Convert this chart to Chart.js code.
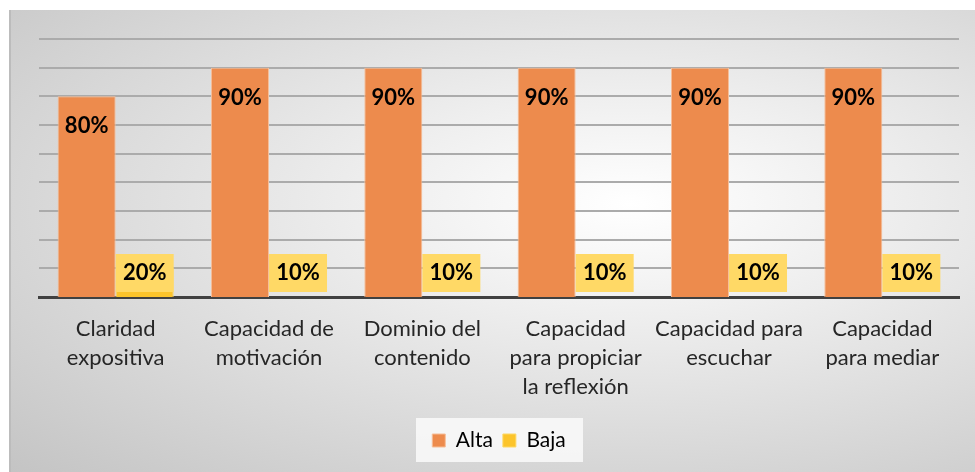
<!DOCTYPE html>
<html>
<head>
<meta charset="utf-8">
<script src="https://cdn.jsdelivr.net/npm/chart.js@4.4.1/dist/chart.umd.min.js"></script>
<style>
  html, body { margin: 0; padding: 0; background: #fff; }
  #wrap { position: relative; width: 975px; height: 472px; overflow: hidden; }
  #bg {
    position: absolute; left: 9px; top: 10px; width: 966px; height: 462px;
    background: radial-gradient(ellipse farthest-corner at 64% 42%, #ffffff 0%, #eeeeee 30%, #c4c4c4 100%);
    border-left: 2px solid #bcbcbc;
  }
  canvas { position: absolute; left: 0; top: 0; }
</style>
</head>
<body>
<div id="wrap">
  <div id="bg"></div>
  <canvas id="myChart" width="975" height="472"></canvas>
</div>
<script>
const categories = [
    ['Claridad', 'expositiva'],
    ['Capacidad de', 'motivación'],
    ['Dominio del', 'contenido'],
    ['Capacidad', 'para propiciar', 'la reflexión'],
    ['Capacidad para', 'escuchar'],
    ['Capacidad', 'para mediar']
];
const alta = [80, 90, 90, 90, 90, 90];
const baja = [20, 10, 10, 10, 10, 10];

const FONT = "Lato, 'Open Sans', sans-serif";

// etiquetas de datos (sin plugin externo)
const valueLabels = {
    id: 'valueLabels',
    afterDatasetsDraw(chart) {
        const ctx = chart.ctx;
        const base = chart.scales.y.getPixelForValue(chart.scales.y.min);
        ctx.save();
        ctx.font = 'bold 22px ' + FONT;
        ctx.textAlign = 'center';
        ctx.textBaseline = 'middle';

        chart.getDatasetMeta(0).data.forEach((bar, i) => {
            ctx.fillStyle = '#000';
            ctx.fillText(alta[i] + '%', bar.x, bar.y + 30);
        });

        chart.getDatasetMeta(1).data.forEach((bar, i) => {
            ctx.fillStyle = '#FFD966';
            ctx.fillRect(bar.x - 29, base - 43, 58, 38);
            ctx.fillStyle = '#000';
            ctx.fillText(baja[i] + '%', bar.x, base - 24);
        });
        ctx.restore();
    }
};

// fondo claro detrás de la leyenda
const legendBox = {
    id: 'legendBox',
    beforeDraw(chart) {
        const lg = chart.legend;
        if (!lg) return;
        const ctx = chart.ctx;
        ctx.save();
        ctx.fillStyle = 'rgba(248, 248, 248, 0.9)';
        const w = 167;
        const cx = chart.width / 2 + 12;
        ctx.fillRect(cx - w / 2, lg.top - 2, w, 44);
        ctx.restore();
    }
};

let ctx = document.getElementById('myChart').getContext('2d');

let myChart = new Chart(ctx, {
    type: 'bar',
    data: {
        labels: categories,
        datasets: [{
            label: 'Alta',
            data: alta,
            backgroundColor: '#ED8B4D',
            borderColor: '#F6BE98',
            borderWidth: 1,
            categoryPercentage: 0.757,
            barPercentage: 1
        }, {
            label: 'Baja',
            data: baja,
            backgroundColor: '#FCC42B',
            borderColor: '#FDD866',
            borderWidth: 1,
            categoryPercentage: 0.757,
            barPercentage: 1
        }]
    },
    plugins: [legendBox, valueLabels],
    options: {
        responsive: false,
        animation: false,
        layout: {
            padding: { left: 39, right: 16, top: 39, bottom: 11 }
        },
        scales: {
            x: {
                grid: { display: false, drawTicks: false },
                border: { color: '#404040', width: 3 },
                ticks: {
                    color: '#262626',
                    font: { family: FONT, size: 22, lineHeight: 1.32 },
                    padding: 17,
                    maxRotation: 0,
                    autoSkip: false
                },
                afterFit(s) { s.height = 123; }
            },
            y: {
                min: 10,
                max: 100,
                ticks: { display: false, stepSize: 10 },
                grid: { color: '#ababab', lineWidth: 2, drawTicks: false },
                border: { display: false },
                afterFit(s) { s.width = 0; }
            }
        },
        plugins: {
            tooltip: { enabled: false },
            legend: {
                position: 'bottom',
                labels: {
                    boxWidth: 13,
                    boxHeight: 13,
                    color: '#000',
                    padding: 10,
                    font: { family: FONT, size: 21 }
                }
            }
        }
    }
});
</script>
</body>
</html>
